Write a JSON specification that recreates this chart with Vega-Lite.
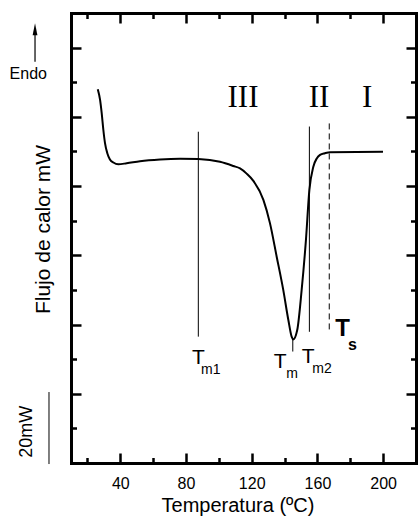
{
  "$schema": "https://vega.github.io/schema/vega-lite/v6.json",
  "width": 345,
  "height": 450,
  "autosize": {"type": "none"},
  "padding": {"left": 71, "top": 13, "right": 2, "bottom": 53},
  "background": "white",
  "config": {"view": {"stroke": null}, "font": "Liberation Sans", "axis": {"grid": false, "domainColor": "black", "domainWidth": 3, "domainCap": "square", "tickColor": "black", "tickWidth": 2.5}},
  "datasets": {
    "curve": [
      {"x": 26.3, "y": 108.0}, {"x": 27.7, "y": 104.9}, {"x": 28.7, "y": 101.0}, {"x": 29.7, "y": 96.2},
      {"x": 30.7, "y": 92.4}, {"x": 32.1, "y": 89.5}, {"x": 33.7, "y": 87.7}, {"x": 35.8, "y": 86.8},
      {"x": 38.8, "y": 86.3}, {"x": 43.9, "y": 86.6}, {"x": 52.0, "y": 87.2}, {"x": 64.2, "y": 87.7},
      {"x": 76.4, "y": 87.9}, {"x": 87.5, "y": 87.8}, {"x": 100.7, "y": 87.0}, {"x": 108.8, "y": 85.8},
      {"x": 112.9, "y": 85.1}, {"x": 116.9, "y": 83.6}, {"x": 121.0, "y": 81.5}, {"x": 127.1, "y": 76.0},
      {"x": 131.1, "y": 69.3}, {"x": 135.2, "y": 59.6}, {"x": 139.2, "y": 50.0}, {"x": 142.3, "y": 41.3},
      {"x": 144.3, "y": 36.5}, {"x": 145.3, "y": 35.7}, {"x": 147.7, "y": 38.4}, {"x": 150.4, "y": 50.0},
      {"x": 153.0, "y": 64.4}, {"x": 155.1, "y": 78.9}, {"x": 157.5, "y": 85.6}, {"x": 159.6, "y": 88.0},
      {"x": 161.6, "y": 89.0}, {"x": 164.6, "y": 89.5}, {"x": 167.7, "y": 89.8}, {"x": 199.9, "y": 89.9}
    ],
    "vlines": [
      {"name": "Tm1", "x": 87.5, "y": 95.7, "y2": 36.5},
      {"name": "Tm", "x": 145.0, "y": 35.7, "y2": 32.2},
      {"name": "Tm2", "x": 155.1, "y": 97.2, "y2": 37.9}
    ],
    "dashed": [{"name": "Ts", "x": 167.2, "y": 98.1, "y2": 38.4}],
    "roman": [
      {"t": "III", "x": 114.7, "y": 105.5},
      {"t": "II", "x": 161.0, "y": 105.5},
      {"t": "I", "x": 190.2, "y": 105.5}
    ],
    "tees": [
      {"t": "T", "x": 87.5, "y": 30.3},
      {"t": "T", "x": 137.3, "y": 29.2},
      {"t": "T", "x": 154.4, "y": 30.6}
    ],
    "subs": [
      {"t": "m1", "x": 95.1, "y": 26.9},
      {"t": "m", "x": 144.5, "y": 25.8},
      {"t": "m2", "x": 162.8, "y": 27.2}
    ],
    "tsT": [{"t": "T", "x": 175.3, "y": 38.6}],
    "tsS": [{"t": "s", "x": 181.3, "y": 34.2}],
    "endo": [{"t": "Endo", "x": -16.0, "y": 112.4}],
    "arrowLine": [{"x": -11.9, "y": 115.9, "y2": 125.5}],
    "arrowHead": [{"x": -11.9, "y": 125.3}],
    "scaleBar": [{"x": -3.4, "y": 20.5, "y2": -0.3}],
    "scaleText": [{"t": "20mW", "x": -16.6, "y": 9.0}]
  },
  "resolve": {"axis": {"x": "independent", "y": "independent"}},
  "layer": [
    {
      "data": {"name": "curve"},
      "mark": {"type": "line", "color": "black", "strokeWidth": 2, "interpolate": "monotone"},
      "encoding": {
        "x": {"field": "x", "type": "quantitative", "scale": {"domain": [10, 220], "nice": false, "zero": false},
          "axis": {"orient": "bottom", "values": [20, 40, 60, 80, 100, 120, 140, 160, 180, 200],
            "tickSize": {"condition": {"test": "datum.value % 40 === 0", "value": -10}, "value": -5.5},
            "labelExpr": "datum.value % 40 === 0 ? datum.label : ''",
            "labelFont": "Liberation Sans", "labelFontSize": 16, "labelColor": "black", "labelBaseline": "alphabetic",
            "labelPadding": 35, "labelFlush": false, "labelOverlap": false,
            "title": "Temperatura (ºC)", "titleFont": "Liberation Sans", "titleFontSize": 20, "titleFontWeight": "normal",
            "titleColor": "black", "titleBaseline": "alphabetic", "titleAlign": "center", "titleX": 166.5, "titleY": 48.7}},
        "y": {"field": "y", "type": "quantitative", "scale": {"domain": [0, 130], "nice": false, "zero": false},
          "axis": {"orient": "left", "values": [10, 20, 30, 40, 50, 60, 70, 80, 90, 100, 110, 120],
            "tickSize": {"condition": {"test": "datum.value % 20 === 0", "value": -10}, "value": -5.5},
            "labels": false,
            "title": "Flujo de calor mW", "titleFont": "Liberation Sans", "titleFontSize": 21, "titleFontWeight": "normal",
            "titleColor": "black", "titleAngle": 270, "titleBaseline": "alphabetic", "titleAlign": "center", "titleX": -21.7, "titleY": 216}}
      }
    },
    {
      "data": {"name": "vlines"},
      "mark": {"type": "rule", "color": "black", "strokeWidth": 1},
      "encoding": {
        "x": {"field": "x", "type": "quantitative", "scale": {"domain": [10, 220], "nice": false, "zero": false},
          "axis": {"orient": "top", "values": [20, 40, 60, 80, 100, 120, 140, 160, 180, 200],
            "tickSize": {"condition": {"test": "datum.value % 40 === 0", "value": -10}, "value": -5.5},
            "labels": false, "title": null}},
        "y": {"field": "y", "type": "quantitative", "scale": {"domain": [0, 130], "nice": false, "zero": false},
          "axis": {"orient": "right", "values": [10, 20, 30, 40, 50, 60, 70, 80, 90, 100, 110, 120],
            "tickSize": {"condition": {"test": "datum.value % 20 === 0", "value": -10}, "value": -5.5},
            "labels": false, "title": null}},
        "y2": {"field": "y2"}
      }
    },
    {
      "data": {"name": "dashed"},
      "mark": {"type": "rule", "color": "black", "strokeWidth": 1, "strokeDash": [6, 4]},
      "encoding": {
        "x": {"field": "x", "type": "quantitative", "axis": null},
        "y": {"field": "y", "type": "quantitative", "axis": null},
        "y2": {"field": "y2"}
      }
    },
    {
      "data": {"name": "roman"},
      "mark": {"type": "text", "font": "Liberation Serif", "fontSize": 31, "color": "black", "align": "center", "baseline": "middle"},
      "encoding": {
        "x": {"field": "x", "type": "quantitative", "axis": null},
        "y": {"field": "y", "type": "quantitative", "axis": null},
        "text": {"field": "t"}
      }
    },
    {
      "data": {"name": "tees"},
      "mark": {"type": "text", "font": "Liberation Sans", "fontSize": 21, "color": "black", "align": "center", "baseline": "middle"},
      "encoding": {
        "x": {"field": "x", "type": "quantitative", "axis": null},
        "y": {"field": "y", "type": "quantitative", "axis": null},
        "text": {"field": "t"}
      }
    },
    {
      "data": {"name": "subs"},
      "mark": {"type": "text", "font": "Liberation Sans", "fontSize": 14, "color": "black", "align": "center", "baseline": "middle"},
      "encoding": {
        "x": {"field": "x", "type": "quantitative", "axis": null},
        "y": {"field": "y", "type": "quantitative", "axis": null},
        "text": {"field": "t"}
      }
    },
    {
      "data": {"name": "tsT"},
      "mark": {"type": "text", "font": "Liberation Sans", "fontSize": 24, "fontWeight": "bold", "color": "black", "align": "center", "baseline": "middle"},
      "encoding": {
        "x": {"field": "x", "type": "quantitative", "axis": null},
        "y": {"field": "y", "type": "quantitative", "axis": null},
        "text": {"field": "t"}
      }
    },
    {
      "data": {"name": "tsS"},
      "mark": {"type": "text", "font": "Liberation Sans", "fontSize": 16, "fontWeight": "bold", "color": "black", "align": "center", "baseline": "middle"},
      "encoding": {
        "x": {"field": "x", "type": "quantitative", "axis": null},
        "y": {"field": "y", "type": "quantitative", "axis": null},
        "text": {"field": "t"}
      }
    },
    {
      "data": {"name": "endo"},
      "mark": {"type": "text", "font": "Liberation Sans", "fontSize": 16, "color": "black", "align": "center", "baseline": "middle"},
      "encoding": {
        "x": {"field": "x", "type": "quantitative", "axis": null},
        "y": {"field": "y", "type": "quantitative", "axis": null},
        "text": {"field": "t"}
      }
    },
    {
      "data": {"name": "arrowLine"},
      "mark": {"type": "rule", "color": "black", "strokeWidth": 1.2},
      "encoding": {
        "x": {"field": "x", "type": "quantitative", "axis": null},
        "y": {"field": "y", "type": "quantitative", "axis": null},
        "y2": {"field": "y2"}
      }
    },
    {
      "data": {"name": "arrowHead"},
      "mark": {"type": "point", "shape": "M0,-1L0.4,1L-0.4,1Z", "size": 144, "filled": true, "color": "black", "opacity": 1, "strokeWidth": 0},
      "encoding": {
        "x": {"field": "x", "type": "quantitative", "axis": null},
        "y": {"field": "y", "type": "quantitative", "axis": null}
      }
    },
    {
      "data": {"name": "scaleBar"},
      "mark": {"type": "rule", "color": "black", "strokeWidth": 1},
      "encoding": {
        "x": {"field": "x", "type": "quantitative", "axis": null},
        "y": {"field": "y", "type": "quantitative", "axis": null},
        "y2": {"field": "y2"}
      }
    },
    {
      "data": {"name": "scaleText"},
      "mark": {"type": "text", "font": "Liberation Sans", "fontSize": 18, "angle": 270, "color": "black", "align": "center", "baseline": "middle"},
      "encoding": {
        "x": {"field": "x", "type": "quantitative", "axis": null},
        "y": {"field": "y", "type": "quantitative", "axis": null},
        "text": {"field": "t"}
      }
    }
  ]
}
